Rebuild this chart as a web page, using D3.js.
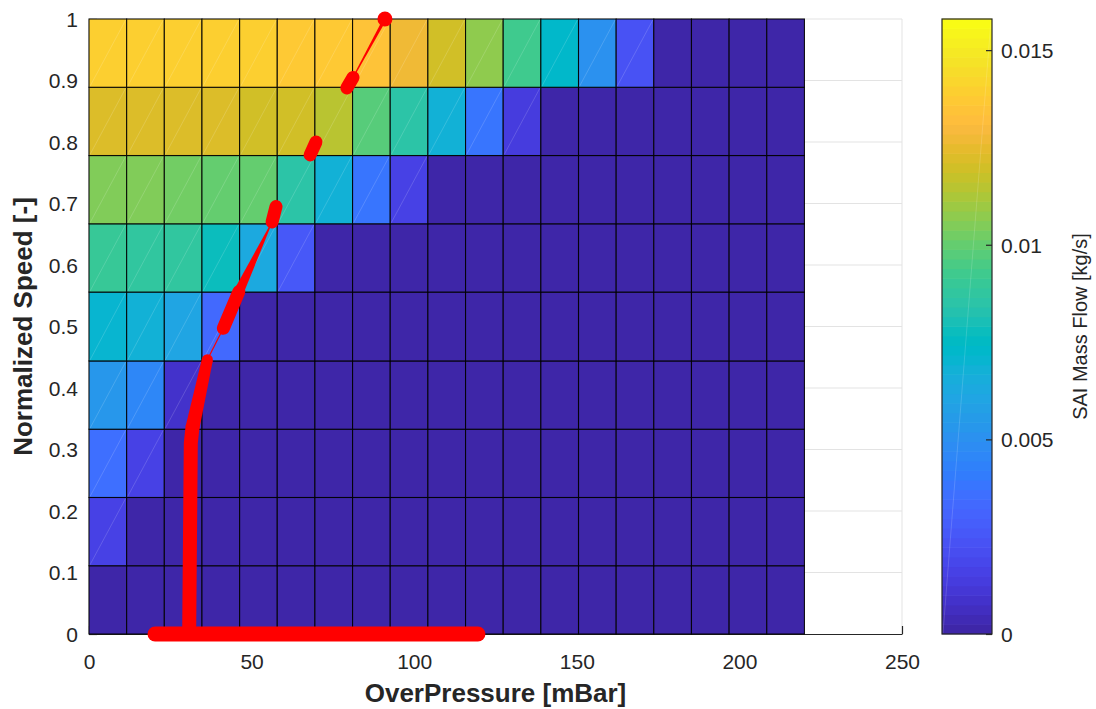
<!DOCTYPE html>
<html>
<head>
<meta charset="utf-8">
<script src="https://cdn.jsdelivr.net/npm/d3@7"></script>
<style>
  body { margin: 0; background: #fff; }
  svg { display: block; font-family: "Liberation Sans", Arial, sans-serif; }
</style>
</head>
<body>
<div id="chart"></div>
<script>
// grid edges of the map
const pressureEdges = [0, 11.58, 23.16, 34.74, 46.32, 57.89, 69.47, 81.05, 92.63, 104.21,
  115.79, 127.37, 138.95, 150.53, 162.11, 173.68, 185.26, 196.84, 208.42, 220];
const speedEdges = [0, 0.111, 0.222, 0.333, 0.444, 0.556, 0.667, 0.778, 0.889, 1];

// SAI mass flow [kg/s], one row per speed band (bottom to top), one value per pressure band
const massFlow = [
  [0, 0, 0, 0, 0, 0, 0, 0, 0, 0, 0, 0, 0, 0, 0, 0, 0, 0, 0],
  [0.0015, 0, 0, 0, 0, 0, 0, 0, 0, 0, 0, 0, 0, 0, 0, 0, 0, 0, 0],
  [0.0035, 0.0015, 0, 0, 0, 0, 0, 0, 0, 0, 0, 0, 0, 0, 0, 0, 0, 0, 0],
  [0.00527, 0.0045, 0.00095, 0, 0, 0, 0, 0, 0, 0, 0, 0, 0, 0, 0, 0, 0, 0, 0],
  [0.0070, 0.0068, 0.0060, 0.00326, 0, 0, 0, 0, 0, 0, 0, 0, 0, 0, 0, 0, 0, 0, 0],
  [0.0090, 0.0088, 0.0087, 0.0078, 0.00627, 0.0027, 0, 0, 0, 0, 0, 0, 0, 0, 0, 0, 0, 0, 0],
  [0.0105, 0.0104, 0.0103, 0.0101, 0.0099, 0.00853, 0.0068, 0.0038, 0.00163, 0, 0, 0, 0, 0, 0, 0, 0, 0, 0],
  [0.0123, 0.0123, 0.0123, 0.0123, 0.0120, 0.0119, 0.01154, 0.00978, 0.00853, 0.00677, 0.00376, 0.00125, 0, 0, 0, 0, 0, 0, 0],
  [0.01404, 0.01404, 0.01404, 0.01404, 0.01400, 0.0138, 0.0138, 0.01354, 0.0128, 0.0119, 0.01075, 0.00928, 0.00727, 0.0050, 0.00226, 0, 0, 0, 0]
];
const flowMax = 0.0158;

// operating points [pressure mBar, normalized speed]
const opBottom = [[20.3, 0], [119.6, 0]];
const opRise = [[30.8, 0], [31.3, 0.31], [31.8, 0.335], [36.4, 0.446]];
const opSteps = [
  [[41.3, 0.497], [46.1, 0.557]],
  [[56.3, 0.670], [57.5, 0.695]],
  [[68.0, 0.779], [69.8, 0.800]],
  [[79.3, 0.888], [81.2, 0.905]],
  [[91.0, 1.0], [91.0, 1.0]]
];

const xTicks = [0, 50, 100, 150, 200, 250];
const yTicks = [0, 0.1, 0.2, 0.3, 0.4, 0.5, 0.6, 0.7, 0.8, 0.9, 1];
const cTicks = [0, 0.005, 0.01, 0.015];

// parula colormap (64 entries)
const parula = [[0.2422,0.1504,0.6603],[0.2504,0.1650,0.7076],[0.2578,0.1818,0.7511],[0.2647,0.1978,0.7952],[0.2706,0.2147,0.8364],[0.2751,0.2342,0.8710],[0.2783,0.2559,0.8991],[0.2803,0.2782,0.9221],[0.2813,0.3006,0.9414],[0.2810,0.3228,0.9579],[0.2795,0.3447,0.9717],[0.2760,0.3667,0.9829],[0.2699,0.3892,0.9906],[0.2602,0.4123,0.9952],[0.2440,0.4358,0.9988],[0.2206,0.4603,0.9973],[0.1963,0.4847,0.9892],[0.1834,0.5074,0.9798],[0.1786,0.5289,0.9682],[0.1764,0.5499,0.9520],[0.1687,0.5703,0.9359],[0.1540,0.5902,0.9218],[0.1460,0.6091,0.9079],[0.1380,0.6276,0.8973],[0.1248,0.6459,0.8883],[0.1113,0.6635,0.8763],[0.0952,0.6798,0.8598],[0.0689,0.6948,0.8394],[0.0297,0.7082,0.8163],[0.0036,0.7203,0.7917],[0.0067,0.7312,0.7660],[0.0433,0.7411,0.7394],[0.0964,0.7500,0.7120],[0.1408,0.7584,0.6842],[0.1717,0.7670,0.6554],[0.1938,0.7758,0.6251],[0.2161,0.7843,0.5923],[0.2470,0.7918,0.5567],[0.2906,0.7973,0.5188],[0.3406,0.8008,0.4789],[0.3909,0.8029,0.4354],[0.4456,0.8024,0.3909],[0.5044,0.7993,0.3480],[0.5616,0.7942,0.3045],[0.6174,0.7876,0.2612],[0.6720,0.7793,0.2227],[0.7242,0.7698,0.1910],[0.7738,0.7598,0.1646],[0.8203,0.7498,0.1535],[0.8634,0.7406,0.1596],[0.9035,0.7330,0.1774],[0.9393,0.7288,0.2100],[0.9728,0.7298,0.2394],[0.9956,0.7434,0.2371],[0.9970,0.7659,0.2199],[0.9952,0.7893,0.2028],[0.9892,0.8136,0.1885],[0.9786,0.8386,0.1766],[0.9676,0.8639,0.1643],[0.9610,0.8890,0.1537],[0.9597,0.9135,0.1423],[0.9628,0.9373,0.1265],[0.9691,0.9606,0.1064],[0.9769,0.9839,0.0805]]
  .map(c => d3.rgb(c[0] * 255, c[1] * 255, c[2] * 255).formatHex());

const W = 1096, H = 709;
const plot = {left: 89, right: 902, top: 19, bottom: 634};
const cbar = {left: 942, right: 992};
const axisColor = '#262626';
const font = '"Liberation Sans", Arial, sans-serif';

const svg = d3.select('#chart').append('svg').attr('width', W).attr('height', H);

const x = d3.scaleLinear().domain([0, 250]).range([plot.left, plot.right]);
const y = d3.scaleLinear().domain([0, 1]).range([plot.bottom, plot.top]);
const color = d3.scaleQuantize().domain([0, flowMax]).range(parula);

// grid
const grid = svg.append('g').attr('stroke', '#e3e3e3').attr('stroke-width', 1);
grid.selectAll('.gy').data(yTicks.slice(1)).join('line')
  .attr('x1', plot.left).attr('x2', plot.right)
  .attr('y1', d => y(d)).attr('y2', d => y(d));
grid.selectAll('.gx').data(xTicks.slice(1)).join('line')
  .attr('x1', d => x(d)).attr('x2', d => x(d))
  .attr('y1', plot.top).attr('y2', plot.bottom);

// axes (ticks inside)
const gx = svg.append('g').attr('transform', 'translate(0,' + plot.bottom + ')')
  .call(d3.axisBottom(x).tickValues(xTicks).tickSizeInner(-8).tickSizeOuter(0).tickPadding(20));
const gy = svg.append('g').attr('transform', 'translate(' + plot.left + ',0)')
  .call(d3.axisLeft(y).tickValues(yTicks).tickFormat(d3.format('')).tickSizeInner(-8).tickSizeOuter(0).tickPadding(11));
[gx, gy].forEach(g => {
  g.selectAll('path, line').attr('stroke', axisColor).attr('stroke-width', 1.2);
  g.selectAll('text').attr('fill', axisColor).style('font-size', '21px').style('font-family', font);
});
gy.selectAll('text').attr('dy', '0.35em');

// heat map cells
const cells = [];
massFlow.forEach((row, i) => row.forEach((v, j) => cells.push({i, j, v})));
const heat = svg.append('g');
heat.selectAll('rect').data(cells).join('rect')
  .attr('x', d => x(pressureEdges[d.j]))
  .attr('y', d => y(speedEdges[d.i + 1]))
  .attr('width', d => x(pressureEdges[d.j + 1]) - x(pressureEdges[d.j]))
  .attr('height', d => y(speedEdges[d.i]) - y(speedEdges[d.i + 1]))
  .attr('fill', d => color(d.v))
  .attr('stroke', '#000').attr('stroke-width', 1.1).attr('stroke-opacity', 0.9);
// faint triangle seams
heat.selectAll('line').data(cells.filter(d => d.v > 0)).join('line')
  .attr('x1', d => x(pressureEdges[d.j]) + 1).attr('y1', d => y(speedEdges[d.i]) - 1)
  .attr('x2', d => x(pressureEdges[d.j + 1]) - 1).attr('y2', d => y(speedEdges[d.i + 1]) + 1)
  .attr('stroke', '#fff').attr('stroke-opacity', 0.2).attr('stroke-width', 0.8);

// operating line
const red = '#ff0000';
const line = d3.line().x(d => x(d[0])).y(d => y(d[1]));
const op = svg.append('g').attr('fill', 'none').attr('stroke', red)
  .attr('stroke-linecap', 'round').attr('stroke-linejoin', 'round');

function taper(a, b, w0, w1) {
  const x0 = x(a[0]), y0 = y(a[1]), x1 = x(b[0]), y1 = y(b[1]);
  const len = Math.hypot(x1 - x0, y1 - y0);
  const nx = -(y1 - y0) / len, ny = (x1 - x0) / len;
  const pts = [[x0 + nx * w0 / 2, y0 + ny * w0 / 2], [x1 + nx * w1 / 2, y1 + ny * w1 / 2],
               [x1 - nx * w1 / 2, y1 - ny * w1 / 2], [x0 - nx * w0 / 2, y0 - ny * w0 / 2]];
  op.append('path').attr('d', 'M' + pts.join('L') + 'Z').attr('fill', red).attr('stroke', 'none');
}
taper(opRise[opRise.length - 1], opSteps[0][0], 1.2, 1.2);
taper(opSteps[0][1], opSteps[1][0], 10, 0.8);
taper(opSteps[3][1], opSteps[4][0], 1.2, 3.5);

op.append('path').attr('d', line(opBottom)).attr('stroke-width', 15);
op.append('path').attr('d', line(opRise.slice(0, 3))).attr('stroke-width', 14);
taper(opRise[2], opRise[3], 14, 11);
op.append('circle').attr('cx', x(opRise[3][0])).attr('cy', y(opRise[3][1])).attr('r', 5.5)
  .attr('fill', red).attr('stroke', 'none');
opSteps.forEach((s, k) => {
  op.append('path').attr('d', line(s)).attr('stroke-width', k === opSteps.length - 1 ? 15 : 13);
});

// axis titles
svg.append('text').attr('x', (plot.left + plot.right) / 2).attr('y', 702)
  .attr('text-anchor', 'middle').attr('fill', axisColor)
  .style('font-size', '26px').style('font-weight', 'bold')
  .text('OverPressure [mBar]');
svg.append('text').attr('transform', 'translate(32,' + (plot.top + plot.bottom) / 2 + ') rotate(-90)')
  .attr('text-anchor', 'middle').attr('fill', axisColor)
  .style('font-size', '26px').style('font-weight', 'bold')
  .text('Normalized Speed [-]');

// colorbar
const cy = d3.scaleLinear().domain([0, flowMax]).range([plot.bottom, plot.top]);
const bandH = (plot.bottom - plot.top) / parula.length;
const cb = svg.append('g');
cb.selectAll('rect').data(parula).join('rect')
  .attr('x', cbar.left).attr('width', cbar.right - cbar.left)
  .attr('y', (d, k) => plot.bottom - (k + 1) * bandH - 0.3)
  .attr('height', bandH + 0.6)
  .attr('fill', d => d);
cb.append('line')
  .attr('x1', cbar.left + 1).attr('y1', plot.bottom - 1).attr('x2', cbar.right - 1).attr('y2', plot.top + 1)
  .attr('stroke', '#fff').attr('stroke-opacity', 0.2).attr('stroke-width', 0.8);
cb.append('rect').attr('x', cbar.left).attr('y', plot.top)
  .attr('width', cbar.right - cbar.left).attr('height', plot.bottom - plot.top)
  .attr('fill', 'none').attr('stroke', axisColor).attr('stroke-width', 1.2);
const gc = svg.append('g').attr('transform', 'translate(' + cbar.right + ',0)')
  .call(d3.axisRight(cy).tickValues(cTicks).tickFormat(d3.format('')).tickSizeInner(-6).tickSizeOuter(0).tickPadding(9));
gc.select('.domain').remove();
gc.selectAll('line').attr('stroke', axisColor).attr('stroke-width', 1.2);
gc.selectAll('text').attr('fill', axisColor).attr('dy', '0.35em')
  .style('font-size', '21px').style('font-family', font);
svg.append('text').attr('transform', 'translate(1087,' + (plot.top + plot.bottom) / 2 + ') rotate(-90)')
  .attr('text-anchor', 'middle').attr('fill', axisColor)
  .style('font-size', '20px')
  .text('SAI Mass Flow [kg/s]');
</script>
</body>
</html>
